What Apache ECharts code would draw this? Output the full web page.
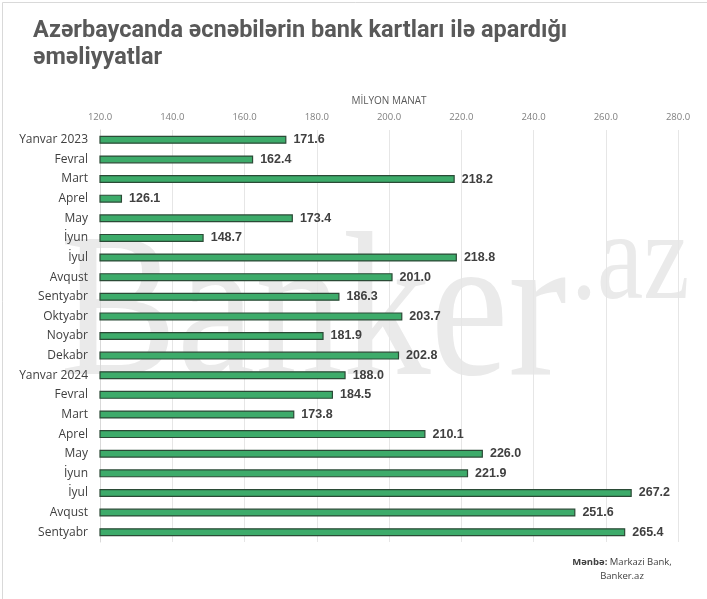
<!DOCTYPE html>
<html><head><meta charset="utf-8">
<script src="https://cdn.jsdelivr.net/npm/echarts@6/dist/echarts.min.js"></script>
<style>html,body{margin:0;padding:0;background:#fff}#c{width:707px;height:599px}</style>
</head><body><div id="c"></div>
<script>
var categories = ["Yanvar 2023","Fevral","Mart","Aprel","May","İyun","İyul","Avqust","Sentyabr","Oktyabr","Noyabr","Dekabr","Yanvar 2024","Fevral","Mart","Aprel","May","İyun","İyul","Avqust","Sentyabr"];
var values = [171.6,162.4,218.2,126.1,173.4,148.7,218.8,201.0,186.3,203.7,181.9,202.8,188.0,184.5,173.8,210.1,226.0,221.9,267.2,251.6,265.4];
var titleText = "Azərbaycanda əcnəbilərin bank kartları ilə apardığı\nəməliyyatlar";
var axisName = "MİLYON MANAT";

var chart = echarts.init(document.getElementById('c'), null, {renderer:'canvas'});
chart.setOption({
  animation:false,
  backgroundColor:'#fff',
  title:{text:titleText,left:28,top:13,textStyle:{fontFamily:'Roboto',fontWeight:'bold',fontSize:23.5,color:'#595959',lineHeight:27}},
  graphic:[
    {type:'rect',left:0,top:0,shape:{width:706,height:598},style:{fill:'none',stroke:'#d9d9d9',lineWidth:1},z:-10},
    {type:'text',x:60,y:218,scaleX:0.856,z:-5,style:{text:'Banker',font:'205px "Liberation Serif"',fill:'#eaeaea'}},
    {type:'text',x:571,y:203,scaleX:0.84,z:-5,style:{text:'.az',font:'124px "Liberation Serif"',fill:'#eaeaea'}},
    {type:'text',x:622,y:555,style:{text:'{b|Mənbə:} Markazi Bank,\nBanker.az',align:'center',font:'9.5px "Open Sans"',fill:'#404040',lineHeight:14,rich:{b:{fontWeight:'bold',fontSize:9.5,fontFamily:'Open Sans',fill:'#404040'}}}}
  ],
  grid:{left:100,right:29,top:130,bottom:57,containLabel:false},
  xAxis:{type:'value',position:'top',min:120,max:280,interval:20,
    name:axisName,nameLocation:'middle',nameGap:24,nameTextStyle:{fontFamily:'Open Sans',fontSize:10,color:'#595959'},
    axisLabel:{formatter:function(v){return v.toFixed(1);},fontFamily:'Open Sans',fontSize:9.5,color:'#808080',margin:8},
    axisLine:{show:false},axisTick:{show:false},
    splitLine:{lineStyle:{color:'#e6e6e6',width:1}}},
  yAxis:{type:'category',inverse:true,data:categories,
    axisLine:{show:true,lineStyle:{color:'#d9d9d9'}},axisTick:{show:false},
    axisLabel:{fontFamily:'Open Sans',fontSize:12,color:'#404040',margin:12}},
  series:[{type:'bar',data:values,barWidth:8,
    itemStyle:{color:'#3dab6a',borderColor:'#2b4a36',borderWidth:1.2},
    label:{show:true,position:'right',distance:7,formatter:function(p){return p.value.toFixed(1);},
      fontFamily:'Liberation Sans',fontWeight:'bold',fontSize:12.5,color:'#404040'}}]
});
</script></body></html>
